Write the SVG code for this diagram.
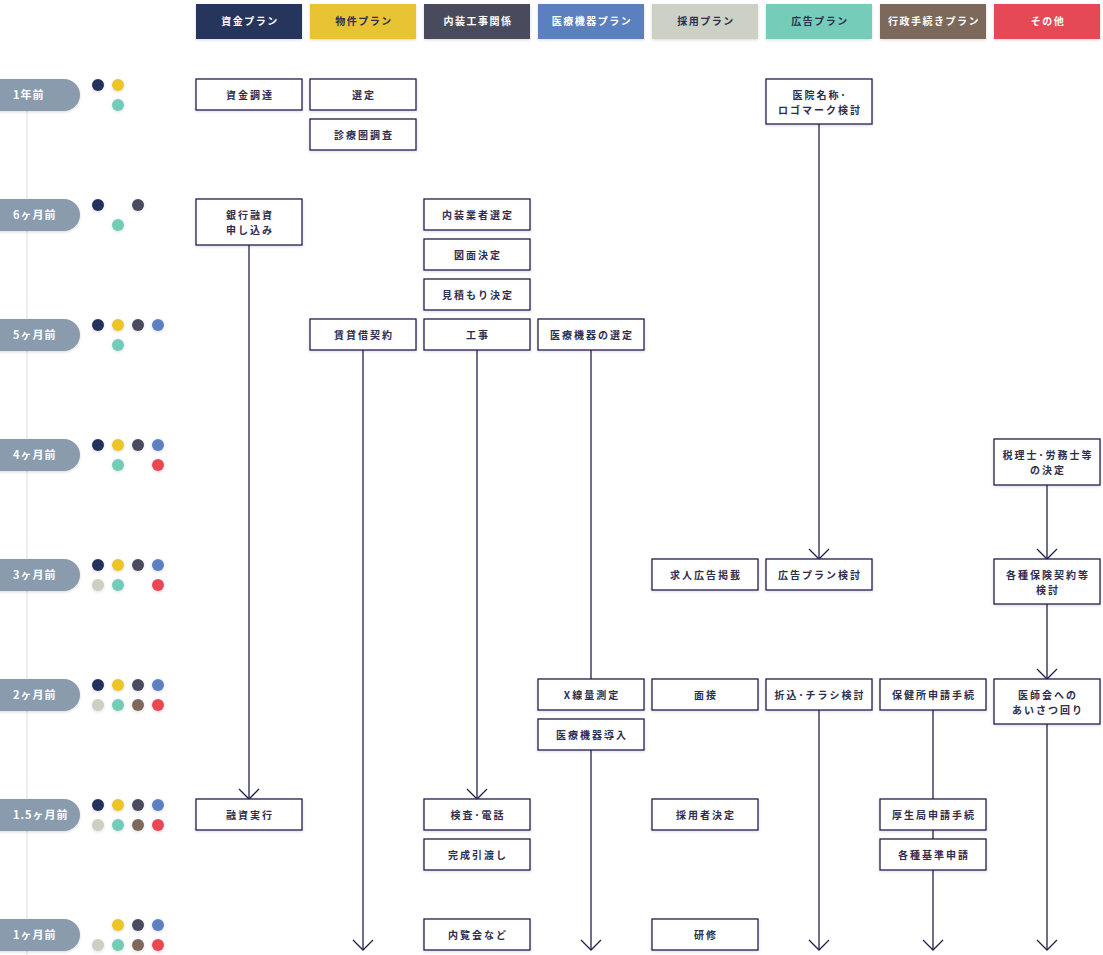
<svg xmlns="http://www.w3.org/2000/svg" width="1103" height="955" viewBox="0 0 1103 955">
<style>
.hd{stroke:none;filter:url(#sh)}
.ht{font-family:"Noto Sans CJK JP","Noto Sans",sans-serif;font-size:10px;font-weight:bold;letter-spacing:1.5px;text-anchor:middle}
.w{fill:#ffffff}
.d{fill:#2d2d4e}
.bx{fill:#ffffff;stroke:#23204f;stroke-width:1.3;filter:url(#sh)}
.bt{font-family:"Noto Sans CJK JP","Noto Sans",sans-serif;font-size:10px;font-weight:bold;letter-spacing:2px;text-anchor:middle;fill:#2d2d4e}
.pill{fill:#8a9bad;filter:url(#sh)}
.pt{font-family:"Noto Sans CJK JP","Noto Sans",sans-serif;font-size:11px;font-weight:bold;letter-spacing:1px;fill:#ffffff}
.dot{filter:url(#sh)}
.c1{fill:#22335a}.c2{fill:#ebc528}.c3{fill:#4a4c5e}.c4{fill:#5b80c0}
.c5{fill:#cccfc2}.c6{fill:#72cdb8}.c7{fill:#7d6a5c}.c8{fill:#e84654}
.ln{stroke:#23204f;stroke-width:1.3;fill:none}
</style>
<defs>
<filter id="sh" x="-20%" y="-30%" width="140%" height="160%">
<feDropShadow dx="0" dy="1" stdDeviation="1.5" flood-color="#000000" flood-opacity="0.15"/>
</filter>
<marker id="ar" viewBox="0 0 12 22" refX="11" refY="11" markerWidth="12" markerHeight="22" markerUnits="userSpaceOnUse" orient="auto">
<path d="M1,1 L11,11 L1,21" fill="none" stroke="#23204f" stroke-width="1.3"/>
</marker>
</defs>
<rect width="1103" height="955" fill="#ffffff"/>

<!-- timeline line -->
<line x1="27" y1="100" x2="27" y2="955" stroke="#eeeeee" stroke-width="2"/>

<!-- headers -->
<g id="headers">
<g id="h1"><rect class="hd" x="196" y="4" width="106" height="35" fill="#25365b"/><text class="ht w" x="250" y="25">資金プラン</text></g>
<g id="h2"><rect class="hd" x="310" y="4" width="106" height="35" fill="#e8c434"/><text class="ht d" x="364" y="25">物件プラン</text></g>
<g id="h3"><rect class="hd" x="424" y="4" width="106" height="35" fill="#4a4b5d"/><text class="ht w" x="478" y="25">内装工事関係</text></g>
<g id="h4"><rect class="hd" x="538" y="4" width="106" height="35" fill="#5a80bf"/><text class="ht w" x="592" y="25">医療機器プラン</text></g>
<g id="h5"><rect class="hd" x="652" y="4" width="106" height="35" fill="#cdd0c4"/><text class="ht d" x="706" y="25">採用プラン</text></g>
<g id="h6"><rect class="hd" x="766" y="4" width="106" height="35" fill="#74cdb9"/><text class="ht d" x="820" y="25">広告プラン</text></g>
<g id="h7"><rect class="hd" x="880" y="4" width="106" height="35" fill="#7d695b"/><text class="ht w" x="934" y="25">行政手続きプラン</text></g>
<g id="h8"><rect class="hd" x="994" y="4" width="106" height="35" fill="#e64856"/><text class="ht w" x="1048" y="25">その他</text></g>
</g>

<!-- timeline pills and dots -->
<g id="t1"><rect class="pill" x="-20" y="79" width="100" height="32" rx="16"/><text class="pt" x="13" y="99">1年前</text>
<circle class="dot c1" cx="98" cy="85" r="6"/><circle class="dot c2" cx="118" cy="85" r="6"/><circle class="dot c6" cx="118" cy="105" r="6"/></g>
<g id="t2"><rect class="pill" x="-20" y="199" width="100" height="32" rx="16"/><text class="pt" x="13" y="219">6ヶ月前</text>
<circle class="dot c1" cx="98" cy="205" r="6"/><circle class="dot c3" cx="138" cy="205" r="6"/><circle class="dot c6" cx="118" cy="225" r="6"/></g>
<g id="t3"><rect class="pill" x="-20" y="319" width="100" height="32" rx="16"/><text class="pt" x="13" y="339">5ヶ月前</text>
<circle class="dot c1" cx="98" cy="325" r="6"/><circle class="dot c2" cx="118" cy="325" r="6"/><circle class="dot c3" cx="138" cy="325" r="6"/><circle class="dot c4" cx="158" cy="325" r="6"/><circle class="dot c6" cx="118" cy="345" r="6"/></g>
<g id="t4"><rect class="pill" x="-20" y="439" width="100" height="32" rx="16"/><text class="pt" x="13" y="459">4ヶ月前</text>
<circle class="dot c1" cx="98" cy="445" r="6"/><circle class="dot c2" cx="118" cy="445" r="6"/><circle class="dot c3" cx="138" cy="445" r="6"/><circle class="dot c4" cx="158" cy="445" r="6"/><circle class="dot c6" cx="118" cy="465" r="6"/><circle class="dot c8" cx="158" cy="465" r="6"/></g>
<g id="t5"><rect class="pill" x="-20" y="559" width="100" height="32" rx="16"/><text class="pt" x="13" y="579">3ヶ月前</text>
<circle class="dot c1" cx="98" cy="565" r="6"/><circle class="dot c2" cx="118" cy="565" r="6"/><circle class="dot c3" cx="138" cy="565" r="6"/><circle class="dot c4" cx="158" cy="565" r="6"/><circle class="dot c5" cx="98" cy="585" r="6"/><circle class="dot c6" cx="118" cy="585" r="6"/><circle class="dot c8" cx="158" cy="585" r="6"/></g>
<g id="t6"><rect class="pill" x="-20" y="679" width="100" height="32" rx="16"/><text class="pt" x="13" y="699">2ヶ月前</text>
<circle class="dot c1" cx="98" cy="685" r="6"/><circle class="dot c2" cx="118" cy="685" r="6"/><circle class="dot c3" cx="138" cy="685" r="6"/><circle class="dot c4" cx="158" cy="685" r="6"/><circle class="dot c5" cx="98" cy="705" r="6"/><circle class="dot c6" cx="118" cy="705" r="6"/><circle class="dot c7" cx="138" cy="705" r="6"/><circle class="dot c8" cx="158" cy="705" r="6"/></g>
<g id="t7"><rect class="pill" x="-20" y="799" width="100" height="32" rx="16"/><text class="pt" x="13" y="819">1.5ヶ月前</text>
<circle class="dot c1" cx="98" cy="805" r="6"/><circle class="dot c2" cx="118" cy="805" r="6"/><circle class="dot c3" cx="138" cy="805" r="6"/><circle class="dot c4" cx="158" cy="805" r="6"/><circle class="dot c5" cx="98" cy="825" r="6"/><circle class="dot c6" cx="118" cy="825" r="6"/><circle class="dot c7" cx="138" cy="825" r="6"/><circle class="dot c8" cx="158" cy="825" r="6"/></g>
<g id="t8"><rect class="pill" x="-20" y="919" width="100" height="32" rx="16"/><text class="pt" x="13" y="939">1ヶ月前</text>
<circle class="dot c2" cx="118" cy="925" r="6"/><circle class="dot c3" cx="138" cy="925" r="6"/><circle class="dot c4" cx="158" cy="925" r="6"/><circle class="dot c5" cx="98" cy="945" r="6"/><circle class="dot c6" cx="118" cy="945" r="6"/><circle class="dot c7" cx="138" cy="945" r="6"/><circle class="dot c8" cx="158" cy="945" r="6"/></g>

<!-- connectors -->
<g id="connectors">
<line class="ln" x1="249" y1="245" x2="249" y2="799" marker-end="url(#ar)"/>
<line class="ln" x1="363" y1="350" x2="363" y2="950" marker-end="url(#ar)"/>
<line class="ln" x1="477" y1="350" x2="477" y2="799" marker-end="url(#ar)"/>
<line class="ln" x1="591" y1="350" x2="591" y2="679"/>
<line class="ln" x1="591" y1="750" x2="591" y2="950" marker-end="url(#ar)"/>
<line class="ln" x1="819" y1="124" x2="819" y2="559" marker-end="url(#ar)"/>
<line class="ln" x1="819" y1="710" x2="819" y2="950" marker-end="url(#ar)"/>
<line class="ln" x1="933" y1="710" x2="933" y2="799"/>
<line class="ln" x1="933" y1="830" x2="933" y2="839"/>
<line class="ln" x1="933" y1="870" x2="933" y2="950" marker-end="url(#ar)"/>
<line class="ln" x1="1047" y1="485" x2="1047" y2="559" marker-end="url(#ar)"/>
<line class="ln" x1="1047" y1="604" x2="1047" y2="679" marker-end="url(#ar)"/>
<line class="ln" x1="1047" y1="724" x2="1047" y2="950" marker-end="url(#ar)"/>
</g>

<!-- nodes -->
<g id="n-shikin-chotatsu"><rect class="bx" x="196" y="79" width="106" height="31"/><text class="bt" x="250" y="98.5">資金調達</text></g>
<g id="n-sentei"><rect class="bx" x="310" y="79" width="106" height="31"/><text class="bt" x="364" y="98.5">選定</text></g>
<g id="n-shinryoken"><rect class="bx" x="310" y="119" width="106" height="31"/><text class="bt" x="364" y="138.5">診療圏調査</text></g>
<g id="n-iin-meisho"><rect class="bx" x="766" y="79" width="106" height="45"/><text class="bt" x="820" y="98.5">医院名称･</text><text class="bt" x="820" y="113.5">ロゴマーク検討</text></g>

<g id="n-ginko"><rect class="bx" x="196" y="199" width="106" height="46"/><text class="bt" x="250" y="219">銀行融資</text><text class="bt" x="250" y="234">申し込み</text></g>
<g id="n-naiso-gyosha"><rect class="bx" x="424" y="199" width="106" height="31"/><text class="bt" x="478" y="218.5">内装業者選定</text></g>
<g id="n-zumen"><rect class="bx" x="424" y="239" width="106" height="31"/><text class="bt" x="478" y="258.5">図面決定</text></g>
<g id="n-mitsumori"><rect class="bx" x="424" y="279" width="106" height="31"/><text class="bt" x="478" y="298.5">見積もり決定</text></g>

<g id="n-chintai"><rect class="bx" x="310" y="319" width="106" height="31"/><text class="bt" x="364" y="338.5">賃貸借契約</text></g>
<g id="n-koji"><rect class="bx" x="424" y="319" width="106" height="31"/><text class="bt" x="478" y="338.5">工事</text></g>
<g id="n-iryokiki-sentei"><rect class="bx" x="538" y="319" width="106" height="31"/><text class="bt" x="592" y="338.5">医療機器の選定</text></g>

<g id="n-zeirishi"><rect class="bx" x="994" y="439" width="106" height="46"/><text class="bt" x="1048" y="459">税理士･労務士等</text><text class="bt" x="1048" y="474">の決定</text></g>

<g id="n-kyujin"><rect class="bx" x="652" y="559" width="106" height="31"/><text class="bt" x="706" y="578.5">求人広告掲載</text></g>
<g id="n-kokoku-plan"><rect class="bx" x="766" y="559" width="106" height="31"/><text class="bt" x="820" y="578.5">広告プラン検討</text></g>
<g id="n-hoken"><rect class="bx" x="994" y="559" width="106" height="45"/><text class="bt" x="1048" y="578.5">各種保険契約等</text><text class="bt" x="1048" y="593.5">検討</text></g>

<g id="n-xsen"><rect class="bx" x="538" y="679" width="106" height="31"/><text class="bt" x="592" y="698.5">X線量測定</text></g>
<g id="n-iryokiki-donyu"><rect class="bx" x="538" y="719" width="106" height="31"/><text class="bt" x="592" y="738.5">医療機器導入</text></g>
<g id="n-mensetsu"><rect class="bx" x="652" y="679" width="106" height="31"/><text class="bt" x="706" y="698.5">面接</text></g>
<g id="n-orikomi"><rect class="bx" x="766" y="679" width="106" height="31"/><text class="bt" x="820" y="698.5">折込･チラシ検討</text></g>
<g id="n-hokenjo"><rect class="bx" x="880" y="679" width="106" height="31"/><text class="bt" x="934" y="698.5">保健所申請手続</text></g>
<g id="n-ishikai"><rect class="bx" x="994" y="679" width="106" height="45"/><text class="bt" x="1048" y="698.5">医師会への</text><text class="bt" x="1048" y="713.5">あいさつ回り</text></g>

<g id="n-yushi-jikko"><rect class="bx" x="196" y="799" width="106" height="31"/><text class="bt" x="250" y="818.5">融資実行</text></g>
<g id="n-kensa"><rect class="bx" x="424" y="799" width="106" height="31"/><text class="bt" x="478" y="818.5">検査･電話</text></g>
<g id="n-kansei"><rect class="bx" x="424" y="839" width="106" height="31"/><text class="bt" x="478" y="858.5">完成引渡し</text></g>
<g id="n-saiyosha"><rect class="bx" x="652" y="799" width="106" height="31"/><text class="bt" x="706" y="818.5">採用者決定</text></g>
<g id="n-koseikyoku"><rect class="bx" x="880" y="799" width="106" height="31"/><text class="bt" x="934" y="818.5">厚生局申請手続</text></g>
<g id="n-kijun"><rect class="bx" x="880" y="839" width="106" height="31"/><text class="bt" x="934" y="858.5">各種基準申請</text></g>

<g id="n-nairankai"><rect class="bx" x="424" y="919" width="106" height="31"/><text class="bt" x="478" y="938.5">内覧会など</text></g>
<g id="n-kenshu"><rect class="bx" x="652" y="919" width="106" height="31"/><text class="bt" x="706" y="938.5">研修</text></g>
</svg>
